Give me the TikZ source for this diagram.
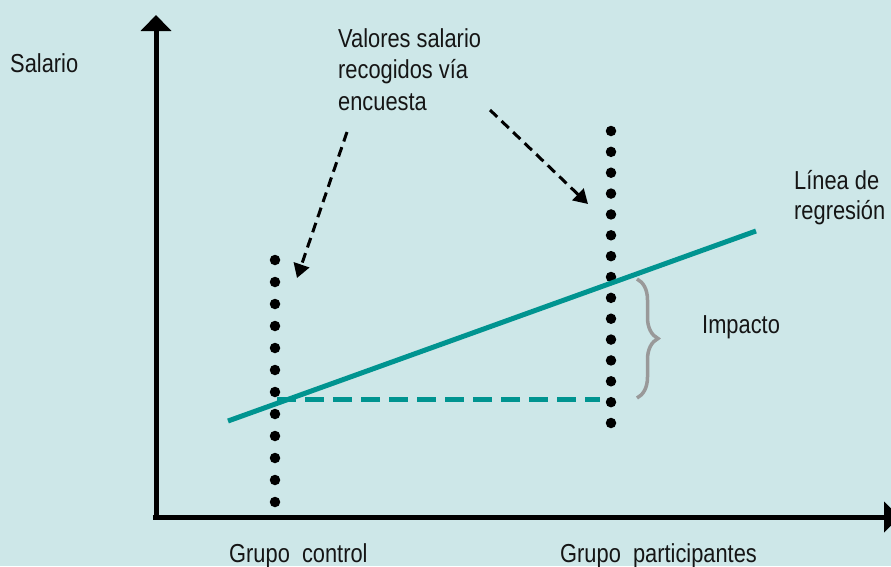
\documentclass[tikz,border=0pt]{standalone}
\usepackage{fontspec}
\setmainfont[FakeStretch=0.84]{Liberation Sans}
\usetikzlibrary{arrows.meta,decorations.pathreplacing}
\definecolor{bgc}{HTML}{CDE7E8}
\definecolor{teal2}{HTML}{009490}
\definecolor{bracec}{HTML}{999999}
\definecolor{txt}{HTML}{151515}
\tikzset{
  lbl/.style={anchor=base west, inner sep=0pt, font=\fontsize{26}{31.5}\selectfont, text=txt, align=left},
  dotnode/.style={circle, fill=black, minimum size=10.5pt, inner sep=0pt},
  axisline/.style={line width=5pt, -{Triangle[length=16pt,width=30pt]}},
  pointer/.style={line width=3pt, dash pattern=on 10pt off 6pt, -{Triangle[length=14pt,width=16pt]}},
  regline/.style={teal2, line width=5pt},
  refline/.style={teal2, line width=5pt, dash pattern=on 19pt off 9pt},
  bracestyle/.style={bracec, line width=3.5pt, decorate, decoration={brace, amplitude=21pt, aspect=0.5}}
}
\begin{document}
\begin{tikzpicture}[x=1pt,y=-1pt]
\fill[bgc] (0,0) rectangle (891,566);
\useasboundingbox (0,0) rectangle (891,566);
\clip (0,0) rectangle (891,566);
% axes
\coordinate (origin) at (156,519);
\coordinate (ytip) at (156,15);
\coordinate (xstart) at (153,517);
\coordinate (xtip) at (900,517);
\draw[axisline] (origin) -- (ytip);
\draw[axisline] (xstart) -- (xtip);
% dots
\foreach \i in {0,...,11} \node[dotnode] (l\i) at (275,{260+22*\i}) {};
\foreach \i in {0,...,14} \node[dotnode] (r\i) at (611,{131+20.857*\i}) {};
% regression
\coordinate (rega) at (228,421);
\coordinate (regb) at (756,231);
\draw[regline] (rega) -- (regb);
\coordinate (dsa) at (277,399);
\coordinate (dsb) at (600,399);
\draw[refline] (dsa) -- (dsb);
% brace
\coordinate (bra) at (637,279);
\coordinate (brb) at (637,398);
\draw[bracestyle] (bra) -- (brb);
% pointers
\coordinate (p1s) at (347,132);
\coordinate (p1t) at (297,278);
\coordinate (p2s) at (490,110);
\coordinate (p2t) at (588,204);
\draw[pointer] (p1s) -- (p1t);
\draw[pointer] (p2s) -- (p2t);
% labels
\node[lbl] (salario) at (10,72) {Salario};
\node[lbl] (valores) at (338,110) {Valores salario\\recogidos vía\\encuesta};
\node[lbl] (linea) at (794,219) {Línea de\\[-2pt]regresión};
\node[lbl] (impacto) at (702,333) {Impacto};
\node[lbl] (gcontrol) at (229,562) {Grupo\ \ control};
\node[lbl] (gpart) at (560,562) {Grupo\ \ participantes};
\end{tikzpicture}
\end{document}
